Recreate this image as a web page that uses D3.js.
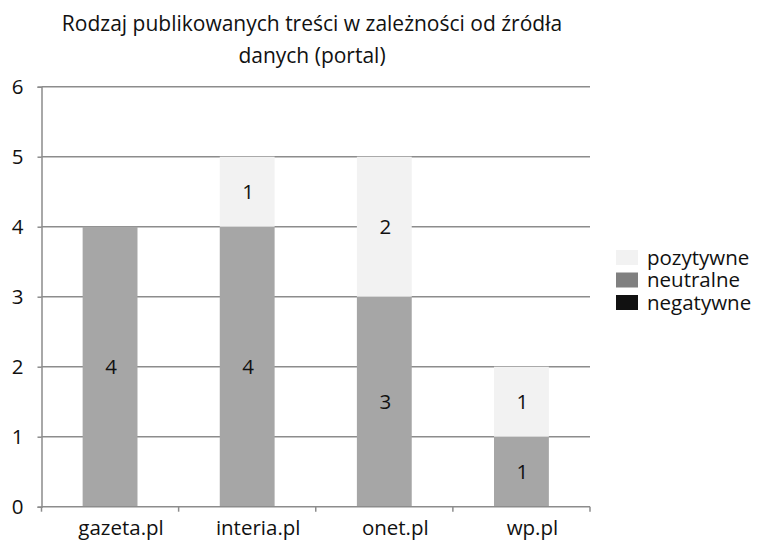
<!DOCTYPE html>
<html>
<head>
<meta charset="utf-8">
<script src="https://cdn.jsdelivr.net/npm/d3@7"></script>
<style>
  body { margin: 0; background: #fff; }
  text { font-family: "Open Sans", "Noto Sans", sans-serif; fill: #111; }
</style>
</head>
<body>
<div id="chart"></div>
<script>
// data
var portals = ["gazeta.pl", "interia.pl", "onet.pl", "wp.pl"];
var negatywne = [0, 0, 0, 0];
var neutralne = [4, 4, 3, 1];
var pozytywne = [0, 1, 2, 1];
var yTicks = [0, 1, 2, 3, 4, 5, 6];
var seriesNames = ["negatywne", "neutralne", "pozytywne"];

function main()
{
    var width = 757, height = 540;
    var left = 41.5, right = 590, top = 86.7, bottom = 506.7;
    var fs = "20.5px";

    var barColor = {negatywne: "#111111", neutralne: "#a6a6a6", pozytywne: "#f2f2f2"};
    var legendColor = {negatywne: "#111111", neutralne: "#808080", pozytywne: "#f2f2f2"};

    var rows = portals.map(function(p, i) {
        return {portal: p, negatywne: negatywne[i], neutralne: neutralne[i], pozytywne: pozytywne[i]};
    });

    var svg = d3.select("#chart").append("svg")
        .attr("width", width)
        .attr("height", height);

    var x = d3.scaleBand().domain(portals).range([left, right]).paddingInner(0).paddingOuter(0);
    var y = d3.scaleLinear().domain([0, 6]).range([bottom, top]);

    // gridlines
    svg.append("g").selectAll("line")
        .data(yTicks.filter(function(d) { return d > 0; }))
        .enter().append("line")
        .attr("x1", left).attr("x2", right)
        .attr("y1", function(d) { return y(d); })
        .attr("y2", function(d) { return y(d); })
        .attr("stroke", "#8c8c8c")
        .attr("stroke-width", 1.5);

    // stacked bars
    var stack = d3.stack().keys(seriesNames);
    var layers = stack(rows);
    var bw = x.bandwidth() * 0.4;

    var layer = svg.append("g").selectAll("g")
        .data(layers)
        .enter().append("g")
        .attr("fill", function(d) { return barColor[d.key]; });

    layer.selectAll("rect")
        .data(function(d) { return d; })
        .enter().append("rect")
        .attr("x", function(d) { return x(d.data.portal) + (x.bandwidth() - bw) / 2; })
        .attr("y", function(d) { return y(d[1]); })
        .attr("width", bw)
        .attr("height", function(d) { return y(d[0]) - y(d[1]); });

    // value labels
    layer.selectAll("text")
        .data(function(d) { return d.filter(function(s) { return s[1] - s[0] > 0; }); })
        .enter().append("text")
        .attr("x", function(d) { return x(d.data.portal) + x.bandwidth() / 2 + 1; })
        .attr("y", function(d) { return y((d[0] + d[1]) / 2); })
        .attr("dy", "0.35em")
        .attr("text-anchor", "middle")
        .style("font-size", fs)
        .text(function(d) { return d[1] - d[0]; });

    // y axis
    var yAxis = svg.append("g")
        .attr("transform", "translate(" + left + ",0)")
        .call(d3.axisLeft(y).tickValues(yTicks).tickSize(4).tickPadding(14).tickFormat(d3.format("d")));
    yAxis.select(".domain").attr("stroke", "#8c8c8c").attr("stroke-width", 1.5);
    yAxis.selectAll(".tick line").attr("stroke", "#8c8c8c").attr("stroke-width", 1.5);
    yAxis.selectAll("text").style("font-size", fs).style("fill", "#111");

    // x axis, ticks at band edges
    var xg = svg.append("g");
    xg.append("line")
        .attr("x1", left).attr("x2", right)
        .attr("y1", bottom).attr("y2", bottom)
        .attr("stroke", "#8c8c8c").attr("stroke-width", 1.5);
    var edges = portals.map(function(p) { return x(p); }).concat([right]);
    xg.selectAll(".edge")
        .data(edges)
        .enter().append("line")
        .attr("x1", function(d) { return d; }).attr("x2", function(d) { return d; })
        .attr("y1", bottom).attr("y2", bottom + 5)
        .attr("stroke", "#8c8c8c").attr("stroke-width", 1.5);
    xg.selectAll("text")
        .data(portals)
        .enter().append("text")
        .attr("x", function(d) { return x(d) + x.bandwidth() / 2 + 11; })
        .attr("y", 535)
        .attr("text-anchor", "middle")
        .style("font-size", fs)
        .text(function(d) { return d; });

    // title
    var title = svg.append("text")
        .attr("text-anchor", "middle")
        .style("font-size", "21px");
    title.append("tspan").attr("x", 312).attr("y", 31).text("Rodzaj publikowanych treści w zależności od źródła");
    title.append("tspan").attr("x", 312).attr("y", 63).text("danych (portal)");

    // legend
    var legendOrder = ["pozytywne", "neutralne", "negatywne"];
    var lg = svg.append("g").attr("transform", "translate(616,250)");
    var item = lg.selectAll("g")
        .data(legendOrder)
        .enter().append("g")
        .attr("transform", function(d, i) { return "translate(0," + (i * 22.5) + ")"; });
    item.append("rect")
        .attr("width", 22).attr("height", 15)
        .attr("fill", function(d) { return legendColor[d]; });
    item.append("text")
        .attr("x", 31).attr("y", 7.5)
        .attr("dy", "0.35em")
        .style("font-size", fs)
        .text(function(d) { return d; });
}

main();
</script>
</body>
</html>
